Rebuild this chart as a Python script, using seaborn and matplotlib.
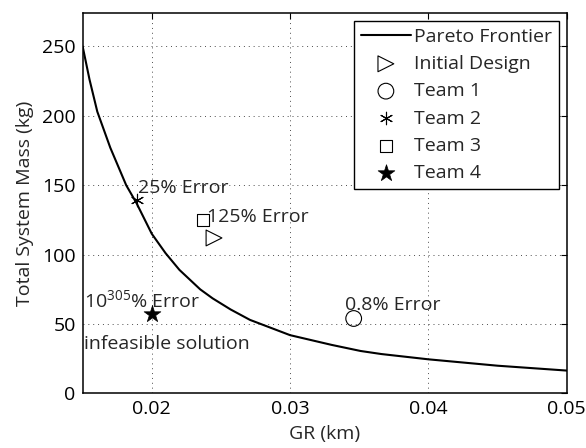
import matplotlib
matplotlib.use("Agg")
import matplotlib.pyplot as plt
import seaborn as sns

# Pareto frontier
frontier_gr = [0.0150, 0.0155, 0.01606, 0.0170, 0.01815, 0.0189, 0.0200, 0.0210,
               0.0220, 0.0235, 0.0244, 0.0257, 0.0271, 0.0300, 0.0330, 0.0351,
               0.0366, 0.0400, 0.0450, 0.0500]
frontier_mass = [250, 226, 203, 177, 150, 137, 115, 101,
                 89, 75, 68.5, 60.5, 53, 42, 35, 30.6,
                 28.4, 24.6, 20, 16.5]

# designs
design_names = ['Initial Design', 'Team 1', 'Team 2', 'Team 3', 'Team 4']
design_gr = [0.0245, 0.0346, 0.0189, 0.0237, 0.0200]
design_mass = [112, 54, 139, 124.6, 57.5]

# annotations
note_text = ['25% Error', '125% Error', '10$^{\\mathrm{305}}$% Error',
             'infeasible solution', '0.8% Error']
note_x = [0.0190, 0.0240, 0.01508, 0.01508, 0.0340]
note_y = [148, 127, 67, 35.5, 64]

x_ticks = [0.02, 0.03, 0.04, 0.05]
y_ticks = [0, 50, 100, 150, 200, 250]

FS = 14

sns.set_style("white")
plt.rcParams['font.family'] = ['Open Sans', 'DejaVu Sans']
plt.rcParams['mathtext.fontset'] = 'custom'
plt.rcParams['mathtext.rm'] = 'Open Sans'
plt.rcParams['font.size'] = FS

fig = plt.figure(figsize=(5.86, 4.48), dpi=100)
ax = fig.add_axes([0.141, 0.1217, 0.826, 0.8493])

sns.lineplot(x=frontier_gr, y=frontier_mass, color='black', lw=1.5,
             label='Pareto Frontier', ax=ax, sort=False)

styles = {
    'Initial Design': dict(marker='>', s=130, facecolor='none', edgecolor='black', linewidth=0.8),
    'Team 1': dict(marker='o', s=128, facecolor='none', edgecolor='black', linewidth=0.8),
    'Team 2': dict(marker=(6, 2, 0), s=80, color='black', linewidth=0.8),
    'Team 3': dict(marker='s', s=75, facecolor='none', edgecolor='black', linewidth=0.8),
    'Team 4': dict(marker='*', s=160, color='black', edgecolor='black', linewidth=0.5),
}
for name, gx, gy in zip(design_names, design_gr, design_mass):
    sns.scatterplot(x=[gx], y=[gy], label=name, ax=ax, zorder=3, **styles[name])

for t, tx, ty in zip(note_text, note_x, note_y):
    ax.text(tx, ty, t, fontsize=FS, va='center', ha='left')

ax.set_xlim(0.015, 0.05)
ax.set_ylim(0, 274)
ax.set_xticks(x_ticks)
ax.set_xticklabels(['0.02', '0.03', '0.04', '0.05'])
ax.set_yticks(y_ticks)
ax.set_xlabel('GR (km)', labelpad=5)
ax.set_ylabel('Total System Mass (kg)', labelpad=6)
ax.grid(True, linestyle=(0, (1, 4)), color='black', linewidth=0.7, alpha=0.7)
ax.tick_params(direction='in', length=4, top=True, right=True, width=0.8,
               colors='black', labelsize=FS, pad=5)
for sp in ax.spines.values():
    sp.set_color('black')
    sp.set_linewidth(1.1)

leg = ax.legend(loc='upper right', frameon=True, fancybox=False, edgecolor='black',
                framealpha=1, borderaxespad=0.4, labelspacing=0.48,
                handlelength=2.6, handletextpad=0.15, fontsize=FS, borderpad=0.35)
leg.get_frame().set_linewidth(1.0)

fig.savefig('out.png', dpi=100)
